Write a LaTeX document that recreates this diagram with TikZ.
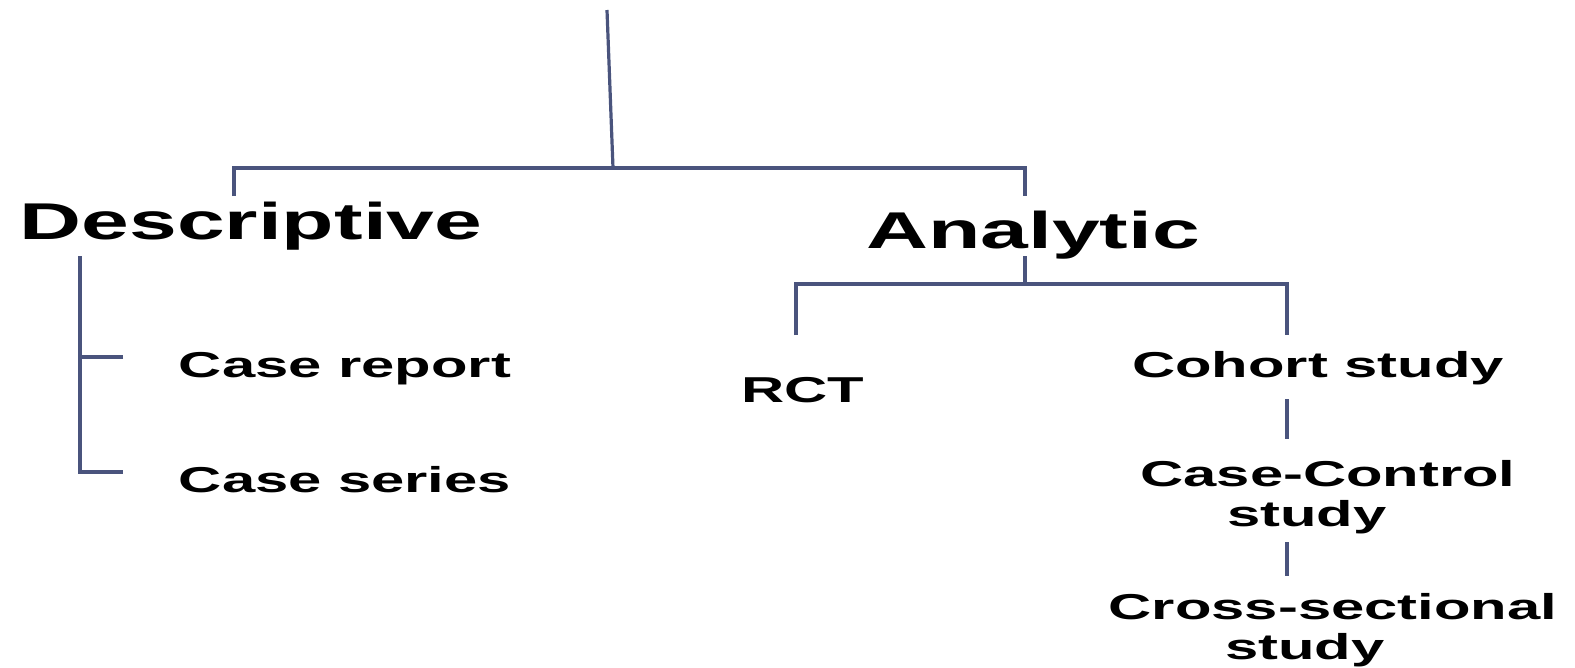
\documentclass[tikz,border=0pt]{standalone}
\usepackage{fontspec}
\newfontfamily\lblfont{Liberation Sans}[FakeStretch=1.66]
\definecolor{linec}{RGB}{74,84,125}
\begin{document}
\begin{tikzpicture}[x=1pt,y=-1pt,
  conn/.style={draw=linec, line width=3.2pt},
  bigl/.style={font=\lblfont\bfseries\fontsize{51.7}{58}\selectfont, inner sep=0pt, anchor=base},
  smalll/.style={font=\lblfont\bfseries\fontsize{36}{40}\selectfont, inner sep=0pt, anchor=base, align=center}]
\useasboundingbox (0,0) rectangle (1575,667);
% labels
\node[bigl] (desc) at (251,239) {Descriptive};
\node[bigl] (anal) at (1033,248) {Analytic};
\node[smalll] (crep) at (345,377) {Case report};
\node[smalll] (cser) at (345,492) {Case series};
\node[smalll] (rct) at (803,402) {RCT};
\node[smalll] (coh) at (1318,377) {Cohort study};
\node[smalll] (cc) at (1328,526) {Case-Control\\\hbox{study\kern42pt}};
\node[smalll] (cs) at (1333,659) {Cross-sectional\\\hbox{study\kern56pt}};
% connector end points
\coordinate (top) at (607,10);
\coordinate (j0) at (613,168);
\coordinate (dtop) at (234,196);
\coordinate (atop) at (1025,196);
\coordinate (abot) at (1025,256);
\coordinate (rtop) at (796,335);
\coordinate (ctop) at (1287,335);
\coordinate (c1) at (1287,399);
\coordinate (c2) at (1287,439);
\coordinate (c3) at (1287,542);
\coordinate (c4) at (1287,576);
\coordinate (l0) at (80,256);
\coordinate (l1) at (123,357);
\coordinate (l2) at (123,472);
% connectors
\draw[conn] (top) -- (j0);
\draw[conn] (dtop) -- ++(0,-28) -| (atop);
\draw[conn] (abot) -- ++(0,28);
\draw[conn] (rtop) -- ++(0,-51) -| (ctop);
\draw[conn] (c1) -- (c2);
\draw[conn] (c3) -- (c4);
\draw[conn] (l0) |- (l2);
\draw[conn] (l1) -- ++(-43,0);
\end{tikzpicture}
\end{document}
